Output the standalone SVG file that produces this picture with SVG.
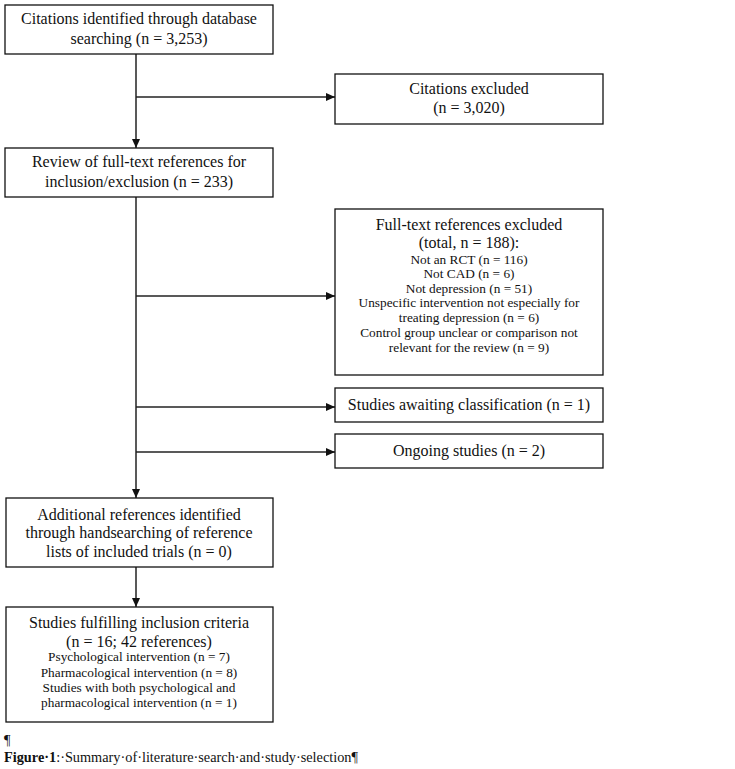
<svg xmlns="http://www.w3.org/2000/svg" width="735" height="769" viewBox="0 0 735 769">
<style>
.box{fill:#fff;stroke:#111;stroke-width:1.3}
.t{font-family:"Liberation Serif","Times New Roman",serif;font-size:16px;fill:#111;text-anchor:middle}
.s{font-family:"Liberation Serif","Times New Roman",serif;font-size:13.3px;fill:#111;text-anchor:middle}
.c{font-family:"Liberation Serif","Times New Roman",serif;font-size:14.3px;fill:#111}
.ln{stroke:#222;stroke-width:1.5;fill:none}
</style>
<defs>
<marker id="ah" markerWidth="9" markerHeight="8" refX="9" refY="4" orient="auto" markerUnits="userSpaceOnUse">
<path d="M0,0 L9,4 L0,8 Z" fill="#111"/>
</marker>
</defs>
<rect width="735" height="769" fill="#fff"/>
<g id="connectors">
<line class="ln" x1="136" y1="54" x2="136" y2="148" marker-end="url(#ah)"/>
<line class="ln" x1="136" y1="97" x2="335" y2="97" marker-end="url(#ah)"/>
<line class="ln" x1="136" y1="197" x2="136" y2="498" marker-end="url(#ah)"/>
<line class="ln" x1="136" y1="296" x2="335" y2="296" marker-end="url(#ah)"/>
<line class="ln" x1="136" y1="407" x2="335" y2="407" marker-end="url(#ah)"/>
<line class="ln" x1="136" y1="452" x2="335" y2="452" marker-end="url(#ah)"/>
<line class="ln" x1="136" y1="567" x2="136" y2="607" marker-end="url(#ah)"/>
</g>
<g id="n1">
<rect class="box" x="5" y="5" width="268" height="49"/>
<text class="t" x="139" y="24">Citations identified through database</text>
<text class="t" x="139" y="44">searching (n = 3,253)</text>
</g>
<g id="n2">
<rect class="box" x="335" y="74" width="268" height="50"/>
<text class="t" x="469" y="94">Citations excluded</text>
<text class="t" x="469" y="113">(n = 3,020)</text>
</g>
<g id="n3">
<rect class="box" x="5" y="148" width="268" height="49"/>
<text class="t" x="139" y="167">Review of full-text references for</text>
<text class="t" x="139" y="187">inclusion/exclusion (n = 233)</text>
</g>
<g id="n4">
<rect class="box" x="335" y="209" width="268" height="166"/>
<text class="t" x="469" y="230">Full-text references excluded</text>
<text class="t" x="469" y="248">(total, n = 188):</text>
<text class="s" x="469" y="264">Not an RCT (n = 116)</text>
<text class="s" x="469" y="278">Not CAD (n = 6)</text>
<text class="s" x="469" y="293">Not depression (n = 51)</text>
<text class="s" x="469" y="307">Unspecific intervention not especially for</text>
<text class="s" x="469" y="322">treating depression (n = 6)</text>
<text class="s" x="469" y="337">Control group unclear or comparison not</text>
<text class="s" x="469" y="352">relevant for the review (n = 9)</text>
</g>
<g id="n5">
<rect class="box" x="335" y="388" width="268" height="34"/>
<text class="t" x="469" y="410">Studies awaiting classification (n = 1)</text>
</g>
<g id="n6">
<rect class="box" x="335" y="434" width="268" height="34"/>
<text class="t" x="469" y="456">Ongoing studies (n = 2)</text>
</g>
<g id="n7">
<rect class="box" x="6" y="498" width="267" height="69"/>
<text class="t" x="139" y="520">Additional references identified</text>
<text class="t" x="139" y="538">through handsearching of reference</text>
<text class="t" x="139" y="557">lists of included trials (n = 0)</text>
</g>
<g id="n8">
<rect class="box" x="6" y="607" width="267" height="115"/>
<text class="t" x="139" y="628">Studies fulfilling inclusion criteria</text>
<text class="t" x="139" y="647">(n = 16; 42 references)</text>
<text class="s" x="139" y="661">Psychological intervention (n = 7)</text>
<text class="s" x="139" y="677">Pharmacological intervention (n = 8)</text>
<text class="s" x="139" y="692">Studies with both psychological and</text>
<text class="s" x="139" y="707">pharmacological intervention (n = 1)</text>
</g>
<text class="c" x="4" y="745">¶</text>
<text class="c" x="4" y="762"><tspan font-weight="bold">Figure·1</tspan>:·Summary·of·literature·search·and·study·selection¶</text>
</svg>
